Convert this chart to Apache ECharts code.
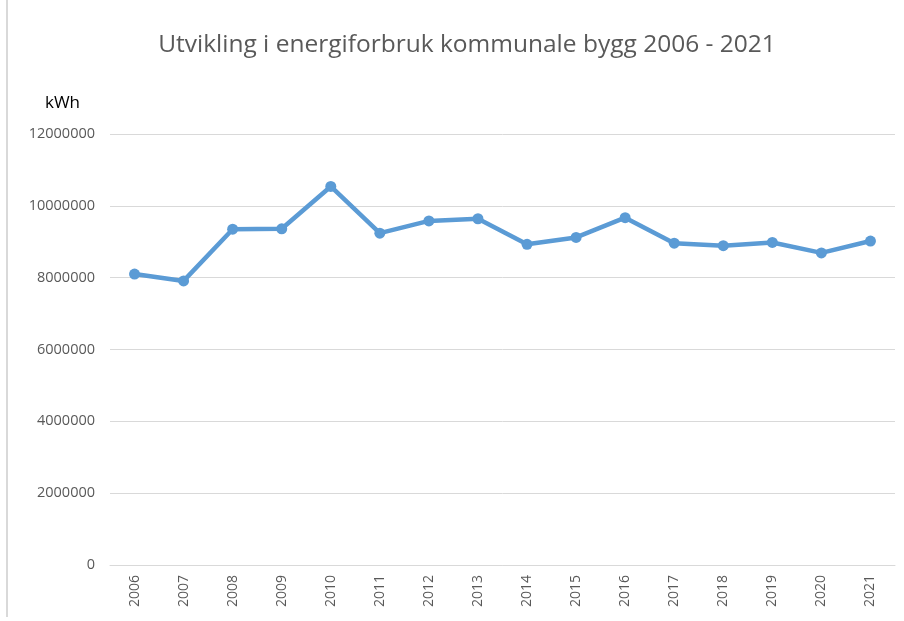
<!DOCTYPE html>
<html>
<head>
<meta charset="utf-8">
<script src="https://cdn.jsdelivr.net/npm/echarts@6/dist/echarts.min.js"></script>
<style type="text/css">
html, body {margin: 0; padding: 0; background: #fff;}
.frame {position: absolute; left: 6px; top: 0; width: 2px; height: 617px; background: #d9d9d9;}
#myChart {position: absolute; left: 0; top: 0; width: 904px; height: 621px;}
</style>
</head>
<body>
<div class="frame"></div>
<div id="myChart"></div>
<script>
var years = ['2006','2007','2008','2009','2010','2011','2012','2013','2014','2015','2016','2017','2018','2019','2020','2021'];
var kwh = [8100000, 7910000, 9350000, 9360000, 10540000, 9240000, 9580000, 9640000, 8930000, 9120000, 9670000, 8960000, 8890000, 8980000, 8690000, 9020000];
var yTicks = [0, 2000000, 4000000, 6000000, 8000000, 10000000, 12000000];

var font = '"Open Sans", "Noto Sans", sans-serif';
var myChart = echarts.init(document.getElementById('myChart'));
var options = {
    animation: false,
    title: {
        text: 'Utvikling i energiforbruk kommunale bygg 2006 - 2021',
        left: 462, top: 28, textAlign: 'center',
        textStyle: {fontFamily: font, fontSize: 24.5, fontWeight: 'normal', color: '#595959'}
    },
    grid: {left: 110, right: 9, top: 134, bottom: 56},
    xAxis: {
        type: 'category',
        boundaryGap: true,
        data: years,
        axisLine: {lineStyle: {color: '#d9d9d9', width: 1}},
        axisTick: {show: false},
        axisLabel: {rotate: 90, margin: 10, fontFamily: font, fontSize: 14, color: '#595959'}
    },
    yAxis: {
        type: 'value',
        min: yTicks[0], max: yTicks[yTicks.length - 1], interval: 2000000,
        name: 'kWh',
        nameLocation: 'end',
        nameGap: 22,
        nameTextStyle: {fontFamily: font, fontSize: 17, color: '#000', align: 'center', padding: [0, 0, 0, -95]},
        axisLine: {show: false},
        axisTick: {show: false},
        splitLine: {lineStyle: {color: '#d9d9d9', width: 1}},
        axisLabel: {margin: 15, fontFamily: font, fontSize: 14.5, color: '#595959', formatter: function (v) { return String(v); }}
    },
    series: [{
        name: 'kWh',
        type: 'line',
        data: kwh,
        symbol: 'circle',
        symbolSize: 11,
        lineStyle: {color: '#5b9bd5', width: 4.5},
        itemStyle: {color: '#5b9bd5'}
    }]
};
myChart.setOption(options);
</script>
</body>
</html>
